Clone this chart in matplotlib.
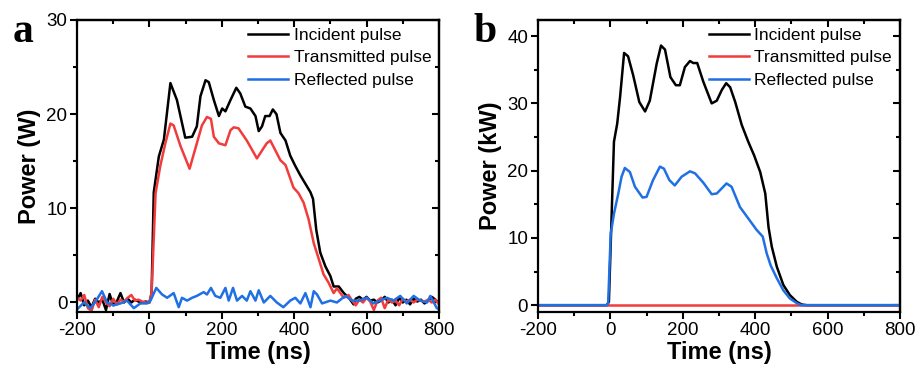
import matplotlib.pyplot as plt
from matplotlib.ticker import MultipleLocator

plt.rcParams['font.family'] = ['Liberation Sans', 'DejaVu Sans']
plt.rcParams['axes.unicode_minus'] = False

# ---- panel a (W) ----
t_inc_a = [-200, -190, -180, -170, -160, -150, -140, -130, -120, -110, -100, -90, -80, -70,
           -60, -50, -40, -30, -20, -10, 0, 6, 12, 26, 40, 58, 76, 99, 118, 131, 141, 155,
           164, 178, 192, 201, 210, 224, 240, 251, 265, 279, 293, 302, 311, 320, 332, 341,
           351, 362, 376, 389, 403, 417, 431, 445, 452, 461, 472, 486, 500, 509, 523, 537,
           551, 564, 570, 580, 590, 600, 610, 620, 630, 640, 650, 660, 670, 680, 690, 700,
           710, 720, 730, 740, 750, 760, 770, 780, 790, 800]
p_inc_a = [0.3, 1.0, -0.3, 0.2, -0.5, 0.4, 0.0, 0.3, -0.8, 0.9, -0.3, 0.1, 1.0, 0.0,
           0.4, 0.0, 0.3, 0.1, 0.0, 0.1, 0.0, 1.0, 11.7, 15.5, 17.3, 23.3, 21.5, 17.5, 17.6, 18.7, 21.9, 23.6,
           23.4, 21.5, 19.8, 20.6, 20.3, 21.5, 22.8, 22.2, 20.8, 20.6, 19.8, 18.2, 18.7, 19.8, 19.8, 20.5,
           20.0, 18.0, 17.2, 15.6, 14.5, 13.5, 12.6, 11.7, 11.0, 7.7, 5.3, 3.85, 2.8, 1.7, 1.7, 1.0,
           0.5, -0.2, 0.4, 0.6, 0.3, 0.6, 0.2, 0.3, 0.0, 0.2, 0.6, 0.0, 0.3, -0.3, 0.5, 0.0,
           0.3, -0.2, 0.4, 0.1, 0.3, -0.1, 0.2, 0.6, 0.3, -0.1]

t_tra_a = [-200, -190, -180, -170, -160, -150, -140, -130, -120, -110, -100, -90, -80, -70,
           -60, -50, -40, -30, -20, -10, 0, 6, 17, 30, 44, 58, 67, 86, 111, 131, 145, 159,
           170, 178, 192, 210, 224, 233, 246, 269, 297, 324, 334, 362, 376, 398, 412, 426,
           440, 454, 468, 481, 495, 509, 518, 537, 550, 560, 570, 580, 590, 600, 610, 620,
           630, 640, 650, 660, 670, 680, 690, 700, 710, 720, 730, 740, 750, 760, 770, 780,
           790, 800]
p_tra_a = [0.5, 0.2, 0.8, -0.6, -0.9, 0.3, -0.5, 0.6, 0.0, -0.4, 0.4, -0.2, 0.3, 0.1,
           0.5, 0.8, 0.2, 0.3, 0.1, 0.0, 0.0, 1.0, 11.6, 14.5, 16.9, 19.0, 18.8, 16.6, 14.2, 16.9, 18.8, 19.7,
           19.5, 17.6, 16.9, 16.7, 18.3, 18.6, 18.5, 17.2, 15.3, 16.9, 17.2, 15.1, 14.6, 12.2, 11.6, 10.6,
           8.8, 6.3, 4.6, 3.0, 2.1, 1.0, 1.5, 0.5, 0.8, 0.2, -0.3, 0.3, 0.0, 0.5, 0.1, -0.8,
           0.2, 0.5, -0.6, 0.3, 0.0, 0.2, -0.3, 0.4, 0.1, 0.3, 0.0, 0.3, 0.2, 0.1, 0.3, 0.0,
           0.3, -0.2]

t_ref_a = [-200, -181, -163, -149, -131, -117, -99, -80, -62, -43, -25, -6, 3, 19, 35, 49,
           67, 81, 90, 104, 118, 131, 150, 159, 170, 182, 196, 210, 219, 231, 242, 256,
           269, 279, 293, 302, 316, 334, 352, 370, 389, 403, 417, 431, 445, 454, 463, 477,
           500, 518, 541, 560, 578, 601, 619, 637, 656, 674, 693, 711, 730, 748, 767, 776,
           794, 800]
p_ref_a = [-0.74, 0.0, -0.6, 0.1, 1.2, 0.0, -0.3, -0.1, 0.2, -0.6, -0.1, -0.1, 0.2, 1.55, 0.85, 0.5,
           1.0, -0.5, 0.5, 0.2, 0.5, 0.7, 1.1, 0.85, 1.55, 0.7, 0.5, 1.55, 0.2, 1.55, 0.2, 0.7,
           0.2, 1.2, 0.2, 1.3, 0.0, 0.7, 0.0, -0.5, 0.2, 0.5, -0.1, 1.0, -0.5, 1.2, 0.85, -0.1,
           0.2, 0.0, 0.7, 0.2, 0.2, 0.5, -0.1, 0.2, 0.5, 0.2, 0.7, -0.1, 0.7, 0.2, 0.0, 0.7,
           -0.6, -0.7]

# ---- panel b (kW) ----
t_inc_b = [-200, -10, -4, 10, 19, 27, 38, 49, 63, 80, 96, 109, 128, 140, 151, 166, 181, 192,
           206, 220, 229, 240, 257, 280, 294, 308, 320, 331, 345, 363, 381, 397, 414, 428,
           437, 446, 460, 478, 496, 515, 529, 543, 800]
p_inc_b = [0, 0, 0.5, 24.3, 27.0, 31.0, 37.5, 37.0, 34.2, 30.2, 28.8, 30.4, 35.9, 38.6, 38.0, 33.9, 32.7, 32.7,
           35.4, 36.3, 36.0, 36.0, 33.2, 30.0, 30.4, 32.0, 33.0, 32.4, 30.2, 26.8, 24.3, 22.3, 19.8, 16.6,
           11.6, 8.7, 5.7, 3.0, 1.5, 0.5, 0.1, 0, 0]

t_tra_b = [-200, 800]
p_tra_b = [0, 0]

t_ref_b = [-200, -10, -6, 1, 10, 22, 31, 40, 54, 68, 89, 100, 118, 137, 148, 163, 178, 197,
           220, 234, 257, 280, 294, 321, 335, 358, 381, 404, 421, 432, 443, 460, 478, 496,
           515, 529, 800]
p_ref_b = [0, 0, 0.3, 10.6, 13.6, 16.6, 19.1, 20.4, 19.8, 17.6, 16.0, 16.1, 18.6, 20.6, 20.3, 18.6, 17.8, 19.1,
           19.9, 19.6, 18.2, 16.5, 16.6, 18.1, 17.6, 14.6, 12.9, 11.2, 10.2, 7.7, 5.9, 4.0, 2.2, 1.0,
           0.3, 0, 0]

labels = ['Incident pulse', 'Transmitted pulse', 'Reflected pulse']
colors = ['#000000', '#f23b3b', '#1f6fe5']

fig = plt.figure(figsize=(9.18, 3.7), dpi=100)
ax_a = fig.add_axes([0.0839, 0.157, 0.3943, 0.789])
ax_b = fig.add_axes([0.586, 0.157, 0.3943, 0.789])

panels = [
    (ax_a, [(t_inc_a, p_inc_a), (t_tra_a, p_tra_a), (t_ref_a, p_ref_a)], 'Power (W)', (-1, 30)),
    (ax_b, [(t_inc_b, p_inc_b), (t_tra_b, p_tra_b), (t_ref_b, p_ref_b)], 'Power (kW)', (-1, 42.4)),
]

for ax, series, ylab, ylim in panels:
    for (t, p), c, lab in zip(series, colors, labels):
        ax.plot(t, p, color=c, lw=1.8, label=lab)
    ax.set_xlim(-200, 800)
    ax.set_ylim(*ylim)
    ax.xaxis.set_major_locator(MultipleLocator(200))
    ax.xaxis.set_minor_locator(MultipleLocator(100))
    ax.yaxis.set_major_locator(MultipleLocator(10))
    ax.yaxis.set_minor_locator(MultipleLocator(5))
    ax.tick_params(which='both', direction='out', width=1.5, labelsize=13.5, pad=2)
    ax.tick_params(which='major', length=5)
    ax.tick_params(which='minor', length=3)
    for s in ax.spines.values():
        s.set_linewidth(1.6)
    # mirrored ticks on top and right, pointing inward
    for side in ('top', 'right'):
        sec = ax.secondary_xaxis('top') if side == 'top' else ax.secondary_yaxis('right')
        axis = sec.xaxis if side == 'top' else sec.yaxis
        axis.set_major_locator(MultipleLocator(200 if side == 'top' else 10))
        axis.set_minor_locator(MultipleLocator(100 if side == 'top' else 5))
        sec.tick_params(which='both', direction='in', width=1.5, labelleft=False,
                        labelright=False, labeltop=False)
        sec.tick_params(which='major', length=5)
        sec.tick_params(which='minor', length=3)
        sec.spines[side].set_linewidth(1.6)
    ax.set_xlabel('Time (ns)', fontsize=17, fontweight='bold', labelpad=2)
    ax.set_ylabel(ylab, fontsize=17, fontweight='bold', labelpad=4)
    ax.legend(loc='upper right', frameon=False, fontsize=12.5, handlelength=2.3,
              handletextpad=0.3, labelspacing=0.42, borderaxespad=0.1, borderpad=0.35)

fig.text(0.025, 0.886, 'a', fontsize=30, fontweight='bold', family='Liberation Serif',
         ha='center', va='baseline')
fig.text(0.528, 0.886, 'b', fontsize=30, fontweight='bold', family='Liberation Serif',
         ha='center', va='baseline')

fig.savefig('out.png', dpi=100)
